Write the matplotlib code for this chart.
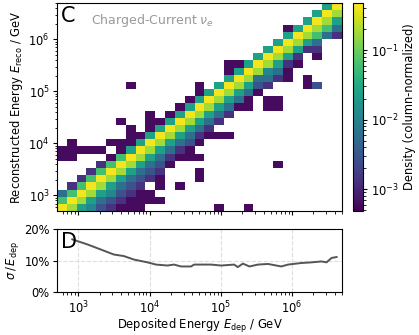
import numpy as np
import matplotlib
matplotlib.use("Agg")
import matplotlib.pyplot as plt
from matplotlib.colors import LogNorm
from matplotlib.ticker import PercentFormatter

# log-spaced bin edges (same for deposited and reconstructed energy)
edges = np.logspace(2.7, 6.7, 30)

# column-normalized density
# one string per row of reco-energy bins, top row first; '.' = empty
# digit = colour level (1 dark purple ... 9 yellow)
hist_rows = [
    "...........................69",
    "..........................698",
    ".........................6986",
    ".......................169874",
    ".......................698742",
    "......................69864..",
    ".....................698622..",
    "....................69862.1..",
    ".................11698621....",
    ".................1698541.....",
    ".................6984421.1...",
    ".......1......1.698632...13..",
    "..............1698641........",
    ".............1698641.11......",
    "............16986411.11......",
    ".........1.1698642...........",
    "......1..11698642............",
    ".......1.1698642.............",
    ".......11698642111...........",
    ".1...1116986431..............",
    "11111.16986421...............",
    "11...1798642111..............",
    "....27986431..........1......",
    "...27986432...1..............",
    "..279864321...1..............",
    ".27986432.1.1................",
    "4798653211...................",
    "79864321111..................",
    "986532111.......1..1.........",
]
level_values = {"1": 6e-4, "2": 1.3e-3, "3": 2.8e-3, "4": 6e-3, "5": 1.2e-2,
                "6": 2.5e-2, "7": 6e-2, "8": 0.18, "9": 0.42}

# relative resolution sigma / E_dep vs deposited energy
res_energy = [822, 1340, 2060, 3140, 4350, 6010, 9380, 1.23e4, 1.79e4, 2.2e4,
              2.76e4, 3.82e4, 4.21e4, 7.3e4, 1.01e5, 1.54e5, 1.73e5, 2.04e5,
              2.53e5, 3.32e5, 4.59e5, 7.06e5, 8.79e5, 1.35e6, 1.87e6, 2.59e6,
              3.05e6, 3.58e6, 4.22e6]
res_sigma = [0.168, 0.152, 0.136, 0.120, 0.115, 0.104, 0.095, 0.088, 0.085, 0.088,
             0.082, 0.082, 0.088, 0.088, 0.085, 0.088, 0.080, 0.091, 0.082, 0.088,
             0.090, 0.082, 0.088, 0.093, 0.095, 0.098, 0.095, 0.109, 0.112]

H = np.array([[level_values.get(c, np.nan) for c in row] for row in hist_rows[::-1]])
H = np.ma.masked_invalid(H)

fs = 8.3
plt.rcParams['font.size'] = fs
plt.rcParams['xtick.major.size'] = 3
plt.rcParams['ytick.major.size'] = 3
plt.rcParams['xtick.minor.size'] = 1.8
plt.rcParams['ytick.minor.size'] = 1.8
plt.rcParams['xtick.major.pad'] = 2.2
plt.rcParams['ytick.major.pad'] = 2.2
plt.rcParams['axes.labelpad'] = 2.5

fig = plt.figure(figsize=(4.19, 3.35), dpi=100)
ax = fig.add_axes([0.136, 0.370, 0.680, 0.621])
ax2 = fig.add_axes([0.136, 0.1275, 0.680, 0.188])
cax = fig.add_axes([0.842, 0.371, 0.0253, 0.619])

mesh = ax.pcolormesh(edges, edges, H, cmap='viridis',
                     norm=LogNorm(vmin=4.9e-4, vmax=0.47))
ax.set_xscale('log')
ax.set_yscale('log')
ax.set_xlim(edges[0], edges[-1])
ax.set_ylim(edges[0], edges[-1])
ax.tick_params(labelbottom=False)
ax.set_ylabel(r"Reconstructed Energy $E_\mathrm{reco}$ / GeV")
ax.text(0.015, 0.985, "C", transform=ax.transAxes, fontsize=15, va='top', ha='left')
ax.text(0.12, 0.955, r"Charged-Current $\nu_e$", transform=ax.transAxes,
        fontsize=9, color='#999999', va='top', ha='left')

cb = fig.colorbar(mesh, cax=cax)
cb.set_label("Density (column-normalized)", labelpad=3)

ax2.plot(res_energy, res_sigma, color='#555555', lw=1.4)
ax2.set_xscale('log')
ax2.set_xlim(edges[0], edges[-1])
ax2.set_ylim(0, 0.2)
ax2.set_yticks([0, 0.1, 0.2])
ax2.yaxis.set_major_formatter(PercentFormatter(1.0, decimals=0))
ax2.grid(True, ls='--', color='#dddddd', lw=0.8)
ax2.set_xlabel(r"Deposited Energy $E_\mathrm{dep}$ / GeV", labelpad=1)
ax2.set_ylabel(r"$\sigma\,/\,E_\mathrm{dep}$")
ax2.text(0.015, 0.96, "D", transform=ax2.transAxes, fontsize=15, va='top', ha='left')

plt.savefig("out.png", dpi=100)
